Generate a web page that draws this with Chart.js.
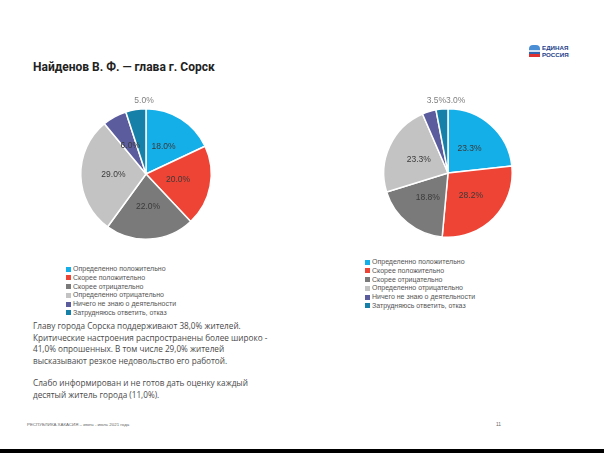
<!DOCTYPE html>
<html><head><meta charset="utf-8">
<script src="https://cdn.jsdelivr.net/npm/chart.js@4.4.0/dist/chart.umd.min.js"></script>
<style>
html,body{margin:0;padding:0;background:#fff;}
body{width:604px;height:453px;position:relative;overflow:hidden;font-family:"Liberation Sans",Arial,sans-serif;}
.abs{position:absolute;}
#title{left:33px;top:60px;font-size:12px;font-weight:bold;color:#222;font-family:Roboto,"Liberation Sans",sans-serif;}
.legend{font-size:7px;color:#555;line-height:8.8px;}
.legend div{white-space:nowrap;}
.legend span{display:inline-block;width:5px;height:5px;margin-right:2px;vertical-align:-0.5px;}
#body{left:33px;top:320px;font-size:8.2px;color:#4a4a4a;line-height:11.7px;font-family:"Open Sans",sans-serif;}
#foot{left:27px;top:422px;font-size:4.4px;color:#666;}
#page{left:496px;top:422px;font-size:4.8px;color:#666;}
#bar{left:0;top:449px;width:604px;height:4px;background:#000;}
#logo{left:529px;top:43px;width:46px;height:16px;}
</style></head>
<body>
<div id="title" class="abs">Найденов В. Ф. — глава г. Сорск</div>
<div id="logo" class="abs">
  <div class="abs" style="left:0;top:2px;width:11px;height:5px;background:#4a8fd6;border-radius:4px 4px 0 0"></div>
  <div class="abs" style="left:0;top:7px;width:11px;height:2px;background:#d8e4f4;"></div>
  <div class="abs" style="left:0;top:9px;width:11px;height:2px;background:#3366b0;"></div>
  <div class="abs" style="left:0;top:11px;width:11px;height:3px;background:#e03030;"></div>
  <div class="abs" style="left:13px;top:1px;font-size:6.2px;font-weight:bold;color:#24418a;line-height:7px;">ЕДИНАЯ<br>РОССИЯ</div>
</div>
<div class="abs" style="left:66px;top:94px;width:160px;height:160px;"><canvas id="c1"></canvas></div>
<div class="abs" style="left:369px;top:94px;width:158px;height:158px;"><canvas id="c2"></canvas></div>
<div id="leg1" class="abs legend" style="left:66px;top:265px;"></div>
<div id="leg2" class="abs legend" style="left:365px;top:258px;"></div>
<div id="body" class="abs">Главу города Сорска поддерживают 38,0% жителей.<br>Критические настроения распространены более широко -<br>41,0% опрошенных. В том числе 29,0% жителей<br>высказывают резкое недовольство его работой.<div style="height:10px"></div>Слабо информирован и не готов дать оценку каждый<br>десятый житель города (11,0%).</div>
<div id="foot" class="abs">РЕСПУБЛИКА ХАКАСИЯ – июнь - июль 2021 года</div>
<div id="page" class="abs">11</div>
<div id="bar" class="abs"></div>
<script>
const categories = ["Определенно положительно","Скорее положительно","Скорее отрицательно","Определенно отрицательно","Ничего не знаю о деятельности","Затрудняюсь ответить, отказ"];
const leftValues = [18.0, 20.0, 22.0, 29.0, 6.0, 5.0];
const rightValues = [23.3, 28.2, 18.8, 23.3, 3.5, 3.0];
const colors = ["#14aee8","#ee4435","#7a7a7a","#c3c3c3","#5b5c9e","#1780a8"];

function buildLegend(id){
  const el=document.getElementById(id);
  categories.forEach((c,i)=>{
    const d=document.createElement('div');
    d.innerHTML='<span style="background:'+colors[i]+'"></span>'+c;
    el.appendChild(d);
  });
}
buildLegend('leg1');buildLegend('leg2');

const labelPlugin={
  id:'pctLabels',
  afterDatasetsDraw(chart,args,opts){
    const ctx=chart.ctx;
    const meta=chart.getDatasetMeta(0);
    const data=chart.data.datasets[0].data;
    const thr=opts.outsideBelow;
    ctx.save();
    ctx.font='8.5px "Liberation Sans", Arial, sans-serif';
    ctx.textAlign='center';ctx.textBaseline='middle';
    const outside=[];
    meta.data.forEach((arc,i)=>{
      const p=arc.getProps(['x','y','startAngle','endAngle','outerRadius'],true);
      const txt=data[i].toFixed(1)+'%';
      if(data[i]<thr){outside.push({txt,p});return;}
      const a=(p.startAngle+p.endAngle)/2;
      const rr=p.outerRadius*0.5;
      ctx.fillStyle='#3a3a3a';
      ctx.fillText(txt,p.x+Math.cos(a)*rr,p.y+Math.sin(a)*rr);
    });
    if(outside.length){
      const w=outside.map(o=>ctx.measureText(o.txt).width);
      const total=w.reduce((s,v)=>s+v,0);
      const p0=outside[0].p;
      let x=p0.x-2-total/2;
      const y=p0.y-p0.outerRadius-8;
      ctx.fillStyle='#808080';
      outside.forEach((o,k)=>{ctx.fillText(o.txt,x+w[k]/2,y);x+=w[k];});
    }
    ctx.restore();
  }
};

function makePie(id,values,thr){
  new Chart(document.getElementById(id),{
    type:'pie',
    data:{labels:categories,datasets:[{data:values,backgroundColor:colors,borderColor:'#fff',borderWidth:1.5}]},
    options:{responsive:true,maintainAspectRatio:true,animation:false,
      layout:{padding:14},
      plugins:{legend:{display:false},tooltip:{enabled:false},pctLabels:{outsideBelow:thr}}},
    plugins:[labelPlugin]
  });
}
makePie('c1',leftValues,5.5);
makePie('c2',rightValues,4);
</script>
</body></html>
